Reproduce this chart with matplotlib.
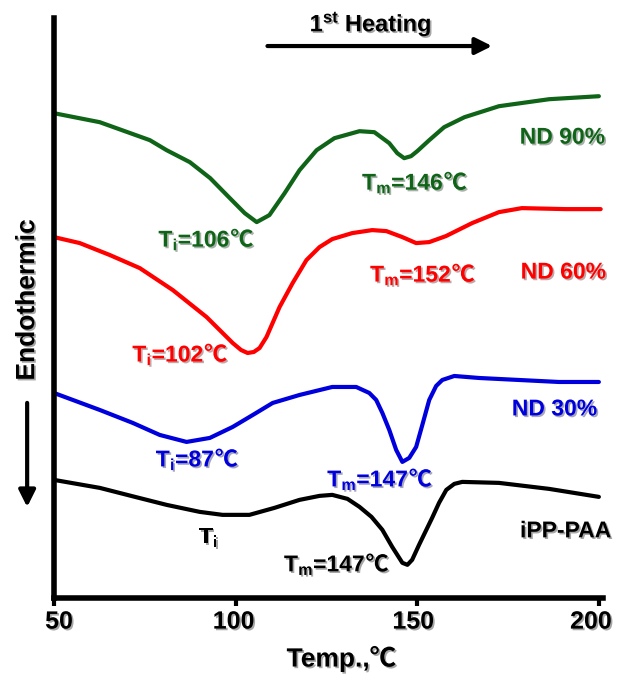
import matplotlib
matplotlib.use("Agg")
import matplotlib.pyplot as plt
import matplotlib.patheffects as pe
from matplotlib.offsetbox import TextArea, HPacker, AnnotationBbox
from matplotlib.transforms import ScaledTranslation

plt.rcParams['font.family'] = ['Liberation Sans', 'DejaVu Sans']
plt.rcParams['font.weight'] = 'bold'
plt.rcParams['mathtext.fontset'] = 'custom'
plt.rcParams['mathtext.rm'] = 'Liberation Sans:bold'
plt.rcParams['mathtext.it'] = 'Liberation Sans:bold'
plt.rcParams['mathtext.bf'] = 'Liberation Sans:bold'

# ---- data (temperature in C, heat flow in arbitrary units)
temp_nd90 = [50, 62.6, 76.4, 81, 87.4, 93, 98.4, 102.5, 105.8, 109.3, 113.5, 117.6, 122.3,
             127.2, 134.1, 138.2, 142.3, 144.5, 146.4, 148.3, 150, 153.3, 157.4, 163, 172.5,
             186.3, 200]
hf_nd90 = [4.85, 4.76, 4.58, 4.48, 4.36, 4.20, 4.00, 3.85, 3.76, 3.83, 4.05, 4.28, 4.48,
           4.60, 4.67, 4.66, 4.55, 4.45, 4.40, 4.42, 4.47, 4.58, 4.71, 4.81, 4.92,
           4.99, 5.02]

temp_nd60 = [50, 57.1, 65.4, 73.6, 82.7, 92.0, 99.2, 101.5, 103.3, 105.0, 106.6, 108.5, 112.1,
             115.7, 119.5, 123.1, 126.6, 132.1, 137.6, 141.5, 145.9, 149.7, 153.3, 157.9,
             165.1, 172.5, 178.8, 190.9, 200.5]
hf_nd60 = [3.61, 3.55, 3.43, 3.30, 3.08, 2.81, 2.55, 2.48, 2.45, 2.46, 2.50, 2.61, 2.91,
           3.15, 3.38, 3.51, 3.59, 3.65, 3.68, 3.67, 3.61, 3.55, 3.56, 3.62,
           3.75, 3.86, 3.90, 3.89, 3.89]

temp_nd30 = [50, 62.6, 71.7, 79.1, 86.5, 92.9, 99.2, 105.2, 110.2, 117.6, 126.6, 133.2, 136.8,
             138.7, 140.4, 142.3, 144.2, 145.9, 147.8, 149.7, 151.4, 153.3, 155.2, 156.9,
             160.2, 167.0, 178.0, 189.0, 200]
hf_nd30 = [2.05, 1.88, 1.75, 1.63, 1.56, 1.60, 1.71, 1.84, 1.95, 2.03, 2.11, 2.11, 2.05,
           1.98, 1.85, 1.68, 1.48, 1.36, 1.40, 1.51, 1.73, 1.98, 2.12, 2.18,
           2.22, 2.20, 2.18, 2.16, 2.16]

temp_ipp = [50, 62.6, 72.3, 81.0, 90.1, 96.4, 103.8, 110.7, 117.6, 123.1, 126.6, 130.8, 134.1,
            137.4, 140.4, 143.1, 145.9, 147.3, 148.6, 150.5, 152.5, 154.1, 156.0, 158.0,
            160.2, 162.4, 172.5, 186.3, 200]
hf_ipp = [1.18, 1.10, 1.01, 0.93, 0.86, 0.83, 0.83, 0.90, 0.98, 1.02, 1.03, 0.99, 0.91,
          0.81, 0.68, 0.51, 0.35, 0.33, 0.38, 0.53, 0.68, 0.80, 0.95, 1.08,
          1.14, 1.16, 1.15, 1.09, 1.01]

xticks = [50, 100, 150, 200]

green = '#0f6418'
red = '#ff0000'
blue = '#0000dd'

shadow = [pe.SimplePatchShadow(offset=(1.2, -1.2), alpha=0.35), pe.Normal()]

fig = plt.figure(figsize=(6.17, 6.77), dpi=100)
ax = fig.add_axes([0.0875, 0.117, 0.889, 0.856])

for t, h, c in [(temp_nd90, hf_nd90, green), (temp_nd60, hf_nd60, red),
                (temp_nd30, hf_nd30, blue), (temp_ipp, hf_ipp, 'black')]:
    ax.plot(t, h, color=c, lw=3, solid_joinstyle='round', solid_capstyle='round')

ax.set_xlim(50, 201)
ax.set_ylim(0, 5.8)
ax.set_xticks(xticks)
ax.set_yticks([])
ax.spines['top'].set_visible(False)
ax.spines['right'].set_visible(False)
ax.spines['left'].set_linewidth(4)
ax.spines['bottom'].set_linewidth(4)
ax.tick_params(axis='x', direction='out', length=5.5, width=3, pad=3, labelsize=18)
# the original tick labels sit slightly inwards at the ends
shifts = [5, -2, -4, -8]
for lab, dx in zip(ax.get_xticklabels(), shifts):
    lab.set_fontweight('bold')
    lab.set_path_effects(shadow)
    lab.set_transform(lab.get_transform() + ScaledTranslation(dx / 100, 0, fig.dpi_scale_trans))

fs = 16.5
def label(x, y, s, c, ha='center', deg=True):
    props = dict(color=c, fontsize=fs, fontweight='bold', path_effects=shadow)
    parts = [TextArea(s, textprops=props)]
    if deg:
        parts.append(TextArea('\u2103', textprops=dict(props, family=['Noto Sans CJK SC'])))
    box = HPacker(children=parts, align='baseline', pad=0, sep=0)
    ab = AnnotationBbox(box, (x, y), xycoords='data', frameon=False, pad=0,
                        box_alignment=(1.0 if ha == 'right' else 0.5, 0.5),
                        annotation_clip=False)
    ax.add_artist(ab)

label(201.6, 4.61, 'ND 90%', green, ha='right', deg=False)
label(149.2, 4.15, 'T$_{m}$=146', green)
label(91.8, 3.58, 'T$_{i}$=106', green)
label(151.4, 3.23, 'T$_{m}$=152', red)
label(201.9, 3.26, 'ND 60%', red, ha='right', deg=False)
label(84.6, 2.43, 'T$_{i}$=102', red)
label(199.5, 1.89, 'ND 30%', blue, ha='right', deg=False)
label(89.3, 1.38, 'T$_{i}$=87', blue)
label(139.6, 1.18, 'T$_{m}$=147', blue)
label(92.6, 0.61, 'T$_{i}$', 'black', deg=False)
label(203.3, 0.67, 'iPP-PAA', 'black', ha='right', deg=False)
label(127.7, 0.33, 'T$_{m}$=147', 'black')

# heating direction and endothermic arrows
fig.text(0.601, 0.965, '1$^{st}$ Heating', fontsize=17, fontweight='bold',
         ha='center', va='center', path_effects=shadow)
ax.annotate('', xy=(0.802, 0.932), xytext=(0.429, 0.932), xycoords='figure fraction',
            arrowprops=dict(arrowstyle='-|>', lw=3, color='black', mutation_scale=25))
fig.text(0.044, 0.557, 'Endothermic', fontsize=19, fontweight='bold', rotation=90,
         ha='center', va='center', path_effects=shadow)
ax.annotate('', xy=(0.044, 0.247), xytext=(0.044, 0.409), xycoords='figure fraction',
            arrowprops=dict(arrowstyle='-|>', lw=3, color='black', mutation_scale=25))
fig.text(0.553, 0.027, 'Temp.,\u2103', fontsize=19, fontweight='bold',
         family=['Liberation Sans', 'Noto Sans CJK SC'],
         ha='center', va='center', path_effects=shadow)

fig.savefig('out.png', dpi=100)
